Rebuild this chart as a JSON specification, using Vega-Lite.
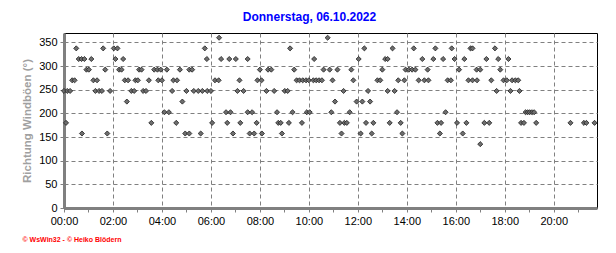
{
  "$schema": "https://vega.github.io/schema/vega-lite/v6.json",
  "width": 533,
  "height": 175,
  "autosize": "none",
  "padding": {"left": 64, "top": 33, "right": 19, "bottom": 45},
  "background": "white",
  "title": {"text": "Donnerstag, 06.10.2022", "color": "#0000FF", "font": "Liberation Sans", "fontSize": 12, "fontWeight": "bold", "dx": -21, "offset": 9},
  "config": {"view": {"stroke": "#000000", "strokeWidth": 1}},
  "data": {"values": [
    {"minute": 0, "direction": 247.5}, {"minute": 5, "direction": 180}, {"minute": 8, "direction": 247.5}, {"minute": 15, "direction": 247.5},
    {"minute": 20, "direction": 270}, {"minute": 26, "direction": 270}, {"minute": 30, "direction": 337.5}, {"minute": 36, "direction": 315},
    {"minute": 43, "direction": 315}, {"minute": 44, "direction": 157.5}, {"minute": 50, "direction": 315}, {"minute": 55, "direction": 292.5},
    {"minute": 61, "direction": 292.5}, {"minute": 67, "direction": 315}, {"minute": 72, "direction": 270}, {"minute": 77, "direction": 247.5},
    {"minute": 81, "direction": 270}, {"minute": 86, "direction": 247.5}, {"minute": 93, "direction": 247.5}, {"minute": 96, "direction": 337.5},
    {"minute": 101, "direction": 292.5}, {"minute": 106, "direction": 157.5}, {"minute": 113, "direction": 247.5}, {"minute": 122, "direction": 337.5},
    {"minute": 126, "direction": 315}, {"minute": 131, "direction": 337.5}, {"minute": 135, "direction": 292.5}, {"minute": 141, "direction": 292.5},
    {"minute": 145, "direction": 315}, {"minute": 149, "direction": 270}, {"minute": 154, "direction": 225}, {"minute": 157, "direction": 270},
    {"minute": 165, "direction": 247.5}, {"minute": 172, "direction": 247.5}, {"minute": 175, "direction": 270}, {"minute": 181, "direction": 270},
    {"minute": 184, "direction": 292.5}, {"minute": 190, "direction": 292.5}, {"minute": 194, "direction": 247.5}, {"minute": 201, "direction": 247.5},
    {"minute": 208, "direction": 270}, {"minute": 214, "direction": 180}, {"minute": 221, "direction": 292.5}, {"minute": 229, "direction": 292.5},
    {"minute": 231, "direction": 270}, {"minute": 237, "direction": 292.5}, {"minute": 240, "direction": 270}, {"minute": 246, "direction": 202.5},
    {"minute": 252, "direction": 292.5}, {"minute": 257, "direction": 202.5}, {"minute": 265, "direction": 247.5}, {"minute": 268, "direction": 270},
    {"minute": 275, "direction": 180}, {"minute": 277, "direction": 270}, {"minute": 284, "direction": 292.5}, {"minute": 290, "direction": 225},
    {"minute": 297, "direction": 157.5}, {"minute": 300, "direction": 247.5}, {"minute": 307, "direction": 292.5}, {"minute": 307, "direction": 157.5},
    {"minute": 314, "direction": 292.5}, {"minute": 318, "direction": 247.5}, {"minute": 329, "direction": 247.5}, {"minute": 335, "direction": 157.5},
    {"minute": 339, "direction": 247.5}, {"minute": 345, "direction": 337.5}, {"minute": 350, "direction": 315}, {"minute": 351, "direction": 247.5},
    {"minute": 360, "direction": 247.5}, {"minute": 363, "direction": 180}, {"minute": 370, "direction": 270}, {"minute": 379, "direction": 270},
    {"minute": 380, "direction": 360}, {"minute": 385, "direction": 315}, {"minute": 397, "direction": 202.5}, {"minute": 400, "direction": 180},
    {"minute": 405, "direction": 315}, {"minute": 408, "direction": 202.5}, {"minute": 414, "direction": 157.5}, {"minute": 421, "direction": 315},
    {"minute": 425, "direction": 247.5}, {"minute": 430, "direction": 270}, {"minute": 432, "direction": 180}, {"minute": 440, "direction": 247.5},
    {"minute": 450, "direction": 315}, {"minute": 450, "direction": 202.5}, {"minute": 455, "direction": 157.5}, {"minute": 461, "direction": 202.5},
    {"minute": 466, "direction": 157.5}, {"minute": 472, "direction": 180}, {"minute": 474, "direction": 270}, {"minute": 480, "direction": 292.5},
    {"minute": 484, "direction": 270}, {"minute": 485, "direction": 157.5}, {"minute": 496, "direction": 247.5}, {"minute": 500, "direction": 292.5},
    {"minute": 508, "direction": 292.5}, {"minute": 515, "direction": 247.5}, {"minute": 522, "direction": 202.5}, {"minute": 525, "direction": 180},
    {"minute": 531, "direction": 180}, {"minute": 534, "direction": 157.5}, {"minute": 541, "direction": 247.5}, {"minute": 548, "direction": 247.5},
    {"minute": 551, "direction": 180}, {"minute": 554, "direction": 337.5}, {"minute": 560, "direction": 202.5}, {"minute": 564, "direction": 292.5},
    {"minute": 570, "direction": 270}, {"minute": 577, "direction": 270}, {"minute": 583, "direction": 180}, {"minute": 585, "direction": 270},
    {"minute": 593, "direction": 270}, {"minute": 595, "direction": 202.5}, {"minute": 600, "direction": 270}, {"minute": 602, "direction": 202.5},
    {"minute": 611, "direction": 270}, {"minute": 613, "direction": 315}, {"minute": 618, "direction": 270}, {"minute": 625, "direction": 270},
    {"minute": 632, "direction": 270}, {"minute": 636, "direction": 292.5}, {"minute": 646, "direction": 360}, {"minute": 651, "direction": 292.5},
    {"minute": 655, "direction": 202.5}, {"minute": 658, "direction": 270}, {"minute": 664, "direction": 225}, {"minute": 670, "direction": 292.5},
    {"minute": 676, "direction": 180}, {"minute": 680, "direction": 157.5}, {"minute": 685, "direction": 247.5}, {"minute": 687, "direction": 180},
    {"minute": 693, "direction": 180}, {"minute": 700, "direction": 202.5}, {"minute": 704, "direction": 292.5}, {"minute": 709, "direction": 270},
    {"minute": 717, "direction": 225}, {"minute": 722, "direction": 315}, {"minute": 727, "direction": 157.5}, {"minute": 731, "direction": 225},
    {"minute": 736, "direction": 337.5}, {"minute": 740, "direction": 180}, {"minute": 745, "direction": 247.5}, {"minute": 750, "direction": 225},
    {"minute": 754, "direction": 157.5}, {"minute": 758, "direction": 180}, {"minute": 768, "direction": 270}, {"minute": 775, "direction": 270},
    {"minute": 780, "direction": 292.5}, {"minute": 787, "direction": 315}, {"minute": 793, "direction": 315}, {"minute": 793, "direction": 247.5},
    {"minute": 798, "direction": 180}, {"minute": 805, "direction": 337.5}, {"minute": 810, "direction": 247.5}, {"minute": 816, "direction": 202.5},
    {"minute": 819, "direction": 270}, {"minute": 825, "direction": 180}, {"minute": 829, "direction": 157.5}, {"minute": 834, "direction": 270},
    {"minute": 837, "direction": 292.5}, {"minute": 845, "direction": 292.5}, {"minute": 853, "direction": 292.5}, {"minute": 857, "direction": 337.5},
    {"minute": 861, "direction": 292.5}, {"minute": 869, "direction": 270}, {"minute": 878, "direction": 315}, {"minute": 883, "direction": 270},
    {"minute": 891, "direction": 292.5}, {"minute": 893, "direction": 270}, {"minute": 905, "direction": 315}, {"minute": 910, "direction": 337.5},
    {"minute": 915, "direction": 180}, {"minute": 921, "direction": 157.5}, {"minute": 924, "direction": 180}, {"minute": 929, "direction": 315},
    {"minute": 935, "direction": 202.5}, {"minute": 940, "direction": 270}, {"minute": 948, "direction": 270}, {"minute": 950, "direction": 337.5},
    {"minute": 957, "direction": 315}, {"minute": 963, "direction": 180}, {"minute": 968, "direction": 292.5}, {"minute": 977, "direction": 157.5},
    {"minute": 981, "direction": 315}, {"minute": 986, "direction": 180}, {"minute": 991, "direction": 270}, {"minute": 996, "direction": 337.5},
    {"minute": 1001, "direction": 337.5}, {"minute": 1001, "direction": 270}, {"minute": 1011, "direction": 292.5}, {"minute": 1012, "direction": 270},
    {"minute": 1020, "direction": 292.5}, {"minute": 1020, "direction": 135}, {"minute": 1030, "direction": 180}, {"minute": 1035, "direction": 315},
    {"minute": 1042, "direction": 180}, {"minute": 1047, "direction": 270}, {"minute": 1056, "direction": 337.5}, {"minute": 1060, "direction": 247.5},
    {"minute": 1064, "direction": 315}, {"minute": 1069, "direction": 292.5}, {"minute": 1077, "direction": 270}, {"minute": 1085, "direction": 270},
    {"minute": 1089, "direction": 315}, {"minute": 1094, "direction": 247.5}, {"minute": 1098, "direction": 270}, {"minute": 1106, "direction": 270},
    {"minute": 1113, "direction": 270}, {"minute": 1116, "direction": 247.5}, {"minute": 1120, "direction": 180}, {"minute": 1127, "direction": 180},
    {"minute": 1131, "direction": 202.5}, {"minute": 1136, "direction": 202.5}, {"minute": 1141, "direction": 202.5}, {"minute": 1147, "direction": 202.5},
    {"minute": 1152, "direction": 202.5}, {"minute": 1157, "direction": 180}, {"minute": 1241, "direction": 180}, {"minute": 1274, "direction": 180},
    {"minute": 1280, "direction": 180}, {"minute": 1300, "direction": 180}
  ]},
  "mark": {"type": "point", "shape": "diamond", "filled": true, "size": 26, "fill": "#6e6e6e", "stroke": "#202020", "strokeWidth": 0.8, "opacity": 1},
  "encoding": {
    "x": {
      "field": "minute", "type": "quantitative",
      "scale": {"domain": [0, 1306], "nice": false, "zero": false},
      "axis": {
        "values": [0, 60, 120, 180, 240, 300, 360, 420, 480, 540, 600, 660, 720, 780, 840, 900, 960, 1020, 1080, 1140, 1200, 1260],
        "labelExpr": "datum.value % 120 === 0 ? ((datum.value < 600 ? '0' : '') + floor(datum.value / 60) + ':00') : ''",
        "labelFont": "Liberation Sans", "labelFontSize": 11, "labelColor": "#000000", "labelPadding": 3,
        "labelFlush": false, "labelOverlap": false,
        "grid": true, "gridColor": "#808080", "gridDash": [4, 3], "gridWidth": 1,
        "gridOpacity": {"condition": {"test": "datum.value % 120 === 0", "value": 1}, "value": 0},
        "tickColor": "#808080", "tickSize": 4, "tickWidth": 1,
        "domainColor": "#808080", "domainWidth": 3,
        "title": "© WsWin32 - © Heiko Blödern",
        "titleColor": "#FF0000", "titleFont": "Liberation Sans", "titleFontSize": 7, "titleFontWeight": "bold",
        "titleAnchor": "start", "titleAlign": "left", "titleBaseline": "alphabetic", "titleX": -42, "titleY": 33
      }
    },
    "y": {
      "field": "direction", "type": "quantitative",
      "scale": {"domain": [0, 370], "nice": false},
      "axis": {
        "values": [0, 50, 100, 150, 200, 250, 300, 350],
        "labelFont": "Liberation Sans", "labelFontSize": 11, "labelColor": "#000000", "labelPadding": 3,
        "grid": true, "gridColor": "#808080", "gridDash": [4, 3], "gridWidth": 1,
        "tickColor": "#808080", "tickSize": 4,
        "domainColor": "#808080", "domainWidth": 3,
        "title": "Richtung Windböen (°)",
        "titleColor": "#A0A0A0", "titleFont": "Liberation Sans", "titleFontSize": 11.5, "titleFontWeight": "bold", "titlePadding": 6
      }
    }
  }
}
